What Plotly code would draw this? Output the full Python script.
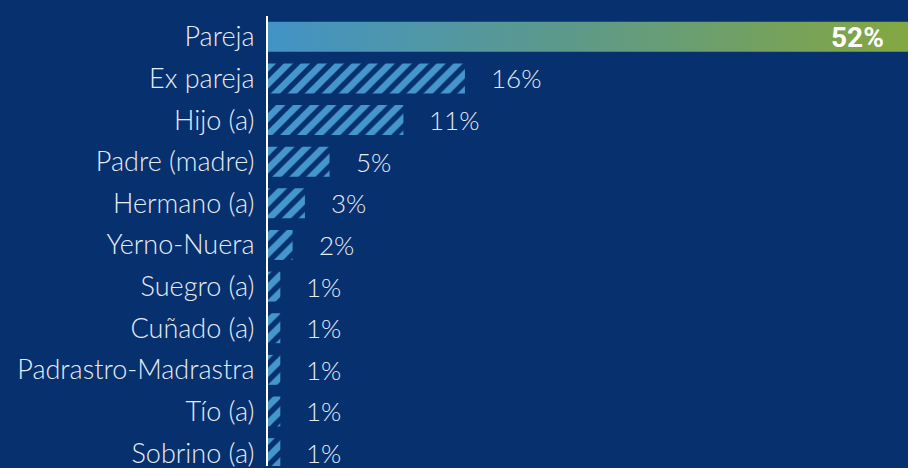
import plotly.graph_objects as go

categories = ["Pareja", "Ex pareja", "Hijo (a)", "Padre (madre)", "Hermano (a)", "Yerno-Nuera",
              "Suegro (a)", "Cuñado (a)", "Padrastro-Madrastra", "Tío (a)", "Sobrino (a)"]
values = [52, 16, 11, 5, 3, 2, 1, 1, 1, 1, 1]
labels = ["52%", "16%", "11%", "5%", "3%", "2%", "1%", "1%", "1%", "1%", "1%"]

BG = "#06306e"
STRIPE = "#4496cc"
TXT = "#e6ecf5"
BARW = 0.72
FONT = "Lato, Roboto, sans-serif"

idx = list(range(len(categories)))
fig = go.Figure()

# hatched bars (all except first)
fig.add_trace(go.Bar(
    x=values[1:], y=idx[1:], orientation="h", width=BARW,
    marker=dict(color=BG, line=dict(width=0), opacity=1,
                pattern=dict(shape="/", fillmode="replace", fgcolor=STRIPE, fgopacity=1,
                             bgcolor=BG, size=12, solidity=0.55)),
    hoverinfo="skip", showlegend=False,
))

# gradient first bar
v0, i0, h = values[0], idx[0], BARW / 2
fig.add_trace(go.Scatter(
    x=[0, v0, v0, 0, 0], y=[i0 - h, i0 - h, i0 + h, i0 + h, i0 - h],
    mode="lines", line=dict(width=0), fill="toself",
    fillgradient=dict(type="horizontal", colorscale=[[0, "#4293c6"], [0.5, "#5f9a86"], [1, "#84a741"]]),
    hoverinfo="skip", showlegend=False,
))

annotations = []
for i, (v, lab) in enumerate(zip(values, labels)):
    if i == 0:
        annotations.append(dict(x=v, y=i, text="<b>" + lab + "</b>", showarrow=False,
                                xanchor="right", xshift=-22, yshift=-1,
                                font=dict(family="Roboto, sans-serif", size=28, color="white")))
    else:
        annotations.append(dict(x=v, y=i, text=lab, showarrow=False, xanchor="left", xshift=24,
                                font=dict(family=FONT, size=26, color=TXT, weight=300)))

fig.update_layout(
    width=908, height=468,
    margin=dict(l=268, r=0, t=16, b=0),
    paper_bgcolor=BG, plot_bgcolor=BG,
    annotations=annotations,
    xaxis=dict(range=[0, 52], showgrid=False, zeroline=False, showticklabels=False, fixedrange=True),
    yaxis=dict(range=[10.31, -0.5], tickvals=idx, ticktext=categories, showgrid=False, zeroline=False,
               showline=True, linecolor="white", linewidth=2, ticks="", ticklabelstandoff=6,
               ticklabeloverflow="allow",
               tickfont=dict(family=FONT, size=27, color=TXT, weight=300)),
    bargap=0.28,
)

fig.write_html("out.html", config={"displayModeBar": False},
               post_script="document.body.style.margin='0';document.body.style.padding='0';"
                           "document.body.style.background='#06306e';document.body.style.overflow='hidden';")
